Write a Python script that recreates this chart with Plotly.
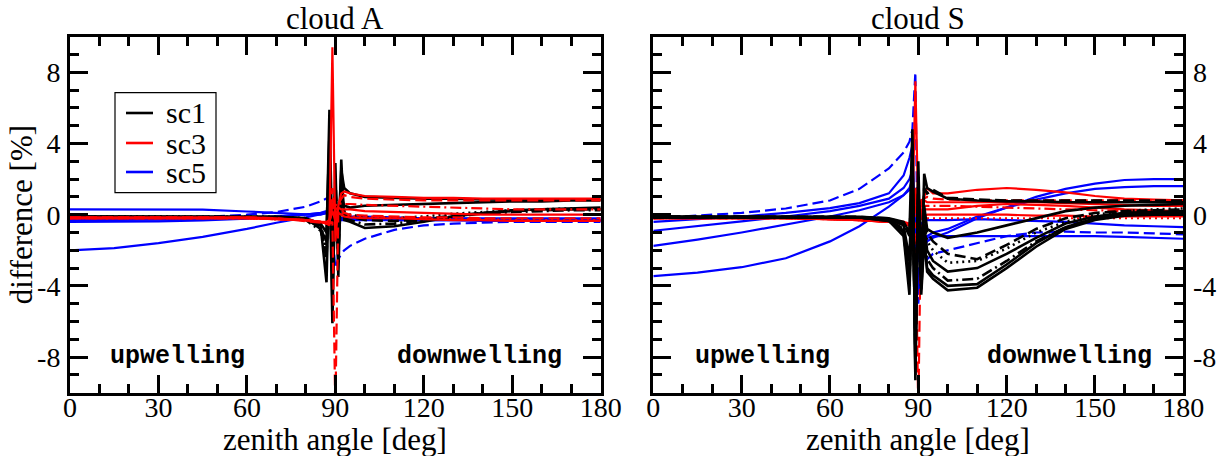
import plotly.graph_objects as go

# ---------------- data ----------------
X = [0, 15, 30, 45, 60, 70, 80, 85, 87, 88, 89, 90, 91, 92, 93, 95, 100, 110, 120, 130, 140, 150, 160, 170, 180]

# cloud A, sc1 (black)
A_k1 = [-0.10,-0.10,-0.10,-0.10,-0.10,-0.12,-0.20,-0.80,-1.5, 5.9,-2.0, 1.0,-1.0, 2.5, 1.5, 1.2, 1.0, 0.95,0.9, 0.9, 0.85,0.85,0.85,0.85,0.85]
A_k2 = [-0.15,-0.15,-0.15,-0.15,-0.15,-0.15,-0.25,-0.60,-3.8, 3.0,-6.1, 2.9,-3.5, 3.1,-0.3,-0.4,-0.75,-0.65,-0.4,-0.1, 0.1, 0.25,0.3, 0.35,0.4]
A_k3 = [-0.10,-0.10,-0.10,-0.10,-0.10,-0.12,-0.20,-0.50,-1.0, 4.5,-5.0, 1.5,-2.0, 1.0, 0.5, 0.4, 0.5, 0.55,0.6, 0.65,0.7, 0.75,0.75,0.8, 0.8]
A_k4 = [-0.12,-0.12,-0.12,-0.12,-0.12,-0.14,-0.25,-0.70,-2.5, 2.5,-4.0, 2.0,-1.5, 1.5, 0.0,-0.1,-0.3,-0.35,-0.25,-0.05,0.1, 0.2, 0.25,0.3, 0.3]
A_k5 = [-0.15,-0.15,-0.15,-0.15,-0.15,-0.16,-0.30,-0.90,-2.0, 3.5,-3.5, 1.5,-2.5, 2.0,-0.2,-0.3,-0.55,-0.5,-0.3,-0.1, 0.05,0.15,0.2, 0.25,0.25]
A_k6 = [-0.10,-0.10,-0.10,-0.10,-0.10,-0.12,-0.20,-0.60,-1.8, 2.0,-3.0, 0.8,-1.0, 1.2, 0.2, 0.0,-0.15,-0.2,-0.1, 0.05,0.15,0.25,0.3, 0.35,0.35]
# cloud A, sc3 (red)
A_r1 = [-0.15,-0.15,-0.15,-0.15,-0.15,-0.2,-0.3,-0.4,-0.5,-0.6, 9.4,-1.5, 0.5, 1.2, 1.3, 1.2, 1.05,1.0, 0.95,0.95,0.9, 0.9, 0.9, 0.9, 0.9]
A_r2 = [-0.15,-0.15,-0.15,-0.15,-0.15,-0.2,-0.35,-0.45,-0.5,-0.5,-0.4,-11.0,0.2, 0.3, 0.1, 0.0,-0.05,-0.1,-0.15,-0.15,-0.2,-0.2,-0.2,-0.2,-0.2]
A_r3 = [-0.2,-0.2,-0.2,-0.2,-0.2,-0.25,-0.3,-0.4,-0.4,-0.3, 0.5, 0.3, 0.4, 0.3, 0.3, 0.3, 0.2, 0.15,0.1, 0.05,0.0, 0.0, 0.0, 0.0, 0.0]
A_r4 = [-0.2,-0.2,-0.2,-0.2,-0.2,-0.25,-0.3,-0.4,-0.5,-0.4, 0.3, 0.0, 0.2, 0.1, 0.0,-0.1,-0.1,-0.15,-0.2,-0.25,-0.25,-0.3,-0.3,-0.3,-0.3]
A_r5 = [-0.2,-0.2,-0.2,-0.2,-0.2,-0.25,-0.3,-0.4,-0.5,-0.4, 0.6, 0.5, 0.7, 0.6, 0.6, 0.6, 0.55,0.5, 0.45,0.4, 0.35,0.3, 0.3, 0.3, 0.3]
A_r6 = [-0.2,-0.2,-0.2,-0.2,-0.2,-0.25,-0.3,-0.4,-0.5,-0.4, 1.5,-0.5, 0.6, 0.9, 1.1, 1.0, 0.9, 0.85,0.8, 0.8, 0.8, 0.8, 0.8, 0.8, 0.8]
A_r7 = [-0.2,-0.2,-0.2,-0.2,-0.2,-0.25,-0.3,-0.4,-0.5,-0.4, 0.2,-0.3, 0.1, 0.0,-0.1,-0.15,-0.2,-0.2,-0.25,-0.3,-0.3,-0.35,-0.35,-0.35,-0.35]
# cloud A, sc5 (blue)
A_b1 = [0.30, 0.30, 0.30, 0.28, 0.18, 0.08, 0.02, 0.0, 0.1, 0.3, 0.5,-0.5,-0.3,-0.2,-0.2,-0.2,-0.25,-0.3,-0.3,-0.3,-0.35,-0.35,-0.35,-0.35,-0.35]
A_b2 = [-2.0,-1.88,-1.6,-1.25,-0.8,-0.45,-0.15, 0.0, 0.1, 0.2,-0.3,-0.6,-0.3,-0.2,-0.15,-0.1,-0.1,-0.15,-0.2,-0.2,-0.25,-0.25,-0.3,-0.3,-0.3]
A_b3 = [-0.2,-0.2,-0.18,-0.12, 0.0, 0.15, 0.45, 0.75, 0.9, 1.0,-1.0,-3.0,-2.5,-2.2,-2.0,-1.75,-1.35,-0.85,-0.6,-0.5,-0.45,-0.4,-0.4,-0.4,-0.4]
A_b4 = [-0.3,-0.3,-0.28,-0.25,-0.2,-0.1, 0.0, 0.1, 0.2, 0.4, 0.0,-0.4,-0.3,-0.2,-0.2,-0.2,-0.2,-0.2,-0.2,-0.2,-0.2,-0.2,-0.2,-0.2,-0.2]
A_b5 = [-0.4,-0.4,-0.38,-0.32,-0.22,-0.1, 0.0, 0.05, 0.1, 0.2,-0.2,-0.8,-0.4,-0.3,-0.3,-0.3,-0.3,-0.3,-0.3,-0.3,-0.3,-0.3,-0.3,-0.3,-0.3]

# cloud S, sc1 (black)
S_k1 = [-0.10,-0.10,-0.10,-0.10,-0.10,-0.12,-0.20,-0.40,-1.0, 4.8,-9.3, 3.0,-4.0, 2.3, 1.5, 1.3, 0.9, 0.8, 0.75,0.75,0.7, 0.7, 0.7, 0.7, 0.7]
S_k2 = [-0.10,-0.10,-0.10,-0.10,-0.10,-0.12,-0.20,-0.50,-1.2, 3.0,-8.0, 2.0,-3.0, 1.5, 1.2, 1.4, 0.95,0.85,0.8, 0.8, 0.8, 0.8, 0.8, 0.8, 0.8]
S_k3 = [-0.12,-0.12,-0.12,-0.12,-0.12,-0.14,-0.25,-0.60,-2.5, 2.5,-6.0, 1.0,-2.0, 0.5,-0.8,-1.0,-1.3,-1.0,-0.6,-0.2, 0.2, 0.4, 0.5, 0.55,0.6]
S_k4 = [-0.12,-0.12,-0.12,-0.12,-0.12,-0.14,-0.30,-0.80,-3.0, 1.5,-5.0, 0.5,-1.5, 0.0,-1.0,-1.5,-2.2,-2.5,-1.7,-0.8,-0.2, 0.1, 0.2, 0.25,0.3]
S_k5 = [-0.12,-0.12,-0.12,-0.12,-0.12,-0.14,-0.30,-0.80,-3.5, 2.0,-4.5, 0.0,-2.5,-0.5,-1.5,-2.0,-2.7,-2.6,-1.9,-1.0,-0.4, 0.0, 0.2, 0.3, 0.35]
S_k6 = [-0.15,-0.15,-0.15,-0.15,-0.15,-0.16,-0.30,-0.90,-4.0, 1.0,-7.0, 1.5,-3.5,-0.5,-2.0,-2.6,-3.2,-3.0,-2.2,-1.3,-0.5,-0.1, 0.1, 0.15,0.2]
S_k7 = [-0.15,-0.15,-0.15,-0.15,-0.15,-0.16,-0.30,-1.00,-3.0, 2.0,-6.5, 0.5,-4.0,-1.0,-2.5,-3.0,-3.7,-3.6,-2.6,-1.5,-0.7,-0.2, 0.0, 0.1, 0.1]
S_k8 = [-0.15,-0.15,-0.15,-0.15,-0.15,-0.16,-0.35,-1.20,-4.5, 3.5,-8.5, 2.0,-4.5,-1.5,-3.0,-3.4,-4.0,-3.9,-2.8,-1.6,-0.7,-0.2, 0.0, 0.05,0.1]
S_k9 = [-0.15,-0.15,-0.15,-0.15,-0.15,-0.16,-0.35,-1.00,-3.8, 4.0,-9.0, 1.0,-4.2,-1.2,-3.2,-3.6,-4.25,-4.1,-3.0,-1.8,-0.8,-0.3,-0.05,0.0, 0.0]
# cloud S, sc3 (red)
S_r1 = [-0.15,-0.15,-0.15,-0.15,-0.2,-0.25,-0.3,-0.4,-0.5,-0.3, 7.5, 0.0, 0.5, 1.0, 1.5, 1.2, 1.2, 1.4, 1.5, 1.4, 1.25,1.05,0.9, 0.85,0.8]
S_r2 = [-0.2,-0.2,-0.2,-0.2,-0.25,-0.3,-0.4,-0.5,-0.5,-0.5,-0.5,-11.0,0.8, 0.9, 1.0, 0.9, 0.85,0.8, 0.8, 0.8, 0.8, 0.8, 0.8, 0.8, 0.8]
S_r3 = [-0.2,-0.2,-0.2,-0.2,-0.25,-0.3,-0.4,-0.5,-0.6,-0.4, 1.0, 0.2, 0.3, 0.3, 0.3, 0.3, 0.3, 0.5, 0.6, 0.55,0.5, 0.4, 0.3, 0.25,0.2]
S_r4 = [-0.2,-0.2,-0.2,-0.2,-0.25,-0.3,-0.4,-0.5,-0.6,-0.4, 0.5,-0.5, 0.0,-0.1, 0.0, 0.0, 0.0, 0.0, 0.0,-0.05,-0.05,-0.1,-0.1,-0.1,-0.1]
S_r5 = [-0.2,-0.2,-0.2,-0.2,-0.25,-0.3,-0.4,-0.5,-0.6,-0.4, 0.2,-0.8,-0.3,-0.2,-0.2,-0.2,-0.2,-0.2,-0.2,-0.2,-0.2,-0.2,-0.2,-0.2,-0.2]
S_r6 = [-0.2,-0.2,-0.2,-0.2,-0.25,-0.3,-0.4,-0.5,-0.6,-0.4, 0.8, 0.3, 0.5, 0.5, 0.5, 0.5, 0.5, 0.45,0.4, 0.35,0.3, 0.25,0.2, 0.15,0.1]
S_r7 = [-0.2,-0.2,-0.2,-0.2,-0.25,-0.3,-0.4,-0.5,-0.6,-0.4, 1.5, 0.5, 0.8, 0.8, 0.7, 0.7, 0.7, 0.7, 0.7, 0.7, 0.65,0.6, 0.55,0.5, 0.5]
# cloud S, sc5 (blue)
S_b1 = [-3.45,-3.25,-2.95,-2.45,-1.5,-0.65,0.45,1.1, 1.5, 2.0,-4.0,-2.0,-1.5,-1.8,-1.5,-1.3,-1.0,-0.2, 0.4, 1.0, 1.45,1.75,1.95,2.0, 2.0]
S_b2 = [-1.75,-1.4,-1.0,-0.55,-0.1, 0.25, 0.7, 1.1, 1.4, 1.8,-3.0,-1.5,-1.2,-1.3,-1.2,-1.0,-0.8,-0.1, 0.4, 0.85,1.2, 1.45,1.55,1.6, 1.6]
S_b3 = [-0.9,-0.65,-0.37,-0.1, 0.2, 0.5, 0.9, 1.5, 2.0, 2.5,-2.0,-1.0,-0.5,-0.4,-0.3,-0.3,-0.3,-0.25,-0.3,-0.35,-0.4,-0.5,-0.6,-0.65,-0.7]
S_b4 = [-0.4,-0.25,-0.1, 0.1, 0.37, 0.65,1.2, 2.2, 3.2, 3.9,-1.0,-4.5,-2.0,-1.5,-1.3,-1.2,-1.2,-1.2,-1.2,-1.2,-1.2,-1.2,-1.25,-1.3,-1.35]
S_b5 = [-0.2,-0.05, 0.1, 0.35, 0.8, 1.45, 2.6, 3.5, 4.1, 4.8, 8.0,-5.0,-3.0,-2.8,-2.5,-2.2,-2.0,-1.6,-1.2,-1.0,-0.95,-1.0,-1.0,-1.05,-1.1]

X_TICKS = [0, 30, 60, 90, 120, 150, 180]
Y_TICKS = [-8, -4, 0, 4, 8]
Y_TICK_TEXT = ["-8", "-4", "0", "4", "8"]
GROUPS = ["sc1", "sc3", "sc5"]
PANEL_TITLES = ["cloud A", "cloud S"]

# ---------------- styling ----------------
COLORS = {"sc1": "#000000", "sc3": "#ff0000", "sc5": "#0000ff"}
DASH = {"solid": "solid", "dash": "11px,5px", "dot": "2px,4px", "dashdot": "11px,4px,2px,4px"}
WIDTH = {"sc1": 2.6, "sc3": 2.2, "sc5": 2.2}

panel_A = [
    ("sc5", A_b1, "solid"), ("sc5", A_b2, "solid"), ("sc5", A_b3, "dash"), ("sc5", A_b4, "solid"), ("sc5", A_b5, "solid"),
    ("sc1", A_k1, "solid"), ("sc1", A_k2, "solid"), ("sc1", A_k3, "solid"), ("sc1", A_k4, "dash"), ("sc1", A_k5, "dashdot"), ("sc1", A_k6, "dot"),
    ("sc3", A_r1, "solid"), ("sc3", A_r2, "dash"), ("sc3", A_r3, "solid"), ("sc3", A_r4, "dot"), ("sc3", A_r5, "dashdot"),
    ("sc3", A_r6, "dash"), ("sc3", A_r7, "solid"),
]
panel_S = [
    ("sc5", S_b1, "solid"), ("sc5", S_b2, "solid"), ("sc5", S_b3, "solid"), ("sc5", S_b4, "solid"), ("sc5", S_b5, "dash"),
    ("sc3", S_r1, "solid"), ("sc3", S_r2, "dash"), ("sc3", S_r3, "solid"), ("sc3", S_r4, "solid"), ("sc3", S_r5, "dot"),
    ("sc3", S_r6, "dashdot"), ("sc3", S_r7, "solid"),
    ("sc1", S_k1, "solid"), ("sc1", S_k2, "dash"), ("sc1", S_k3, "solid"), ("sc1", S_k4, "dash"), ("sc1", S_k5, "dot"),
    ("sc1", S_k6, "solid"), ("sc1", S_k7, "dashdot"), ("sc1", S_k8, "solid"), ("sc1", S_k9, "solid"),
]

fig = go.Figure()
for axi, panel in ((1, panel_A), (2, panel_S)):
    for grp, vals, dash in panel:
        fig.add_trace(go.Scatter(
            x=X, y=vals, mode="lines", name=grp, legendgroup=grp, showlegend=False,
            line=dict(color=COLORS[grp], width=WIDTH[grp], dash=DASH[dash]),
            xaxis="x" if axi == 1 else "x2", yaxis="y" if axi == 1 else "y2",
        ))

SERIF = "Liberation Serif, Times New Roman, serif"
MONO = "Liberation Mono, Courier New, monospace"
W, H = 1220, 456
L1, R1, L2, R2 = 70, 600.7, 653.3, 1183.3
TOP, BOT = 36.7, 392.7
ydom = [(H - BOT) / H, (H - TOP) / H]
TICKFONT = dict(family=SERIF, size=28, color="black")

def xax(dom):
    return dict(domain=dom, range=[0, 180], tickvals=X_TICKS, ticks="inside", ticklen=18, tickwidth=2.5,
                tickcolor="black", showline=True, linewidth=3, linecolor="black", mirror="allticks",
                showgrid=False, zeroline=False, tickfont=TICKFONT, ticklabelstandoff=-12,
                minor=dict(dtick=10, ticks="inside", ticklen=9, tickwidth=2.5, tickcolor="black", showgrid=False),
                automargin=False)

def yax(side, anchor):
    return dict(domain=ydom, range=[-10, 10], tickvals=Y_TICKS, ticktext=Y_TICK_TEXT, side=side, anchor=anchor,
                ticks="inside", ticklen=18, tickwidth=2.5, tickcolor="black", showline=True, linewidth=3,
                linecolor="black", mirror="allticks", showgrid=False, zeroline=False,
                tickfont=TICKFONT, ticklabelstandoff=1,
                minor=dict(dtick=1, ticks="inside", ticklen=9, tickwidth=2.5, tickcolor="black", showgrid=False),
                automargin=False)

fig.update_layout(
    width=W, height=H, margin=dict(l=0, r=0, t=0, b=0),
    paper_bgcolor="white", plot_bgcolor="white", showlegend=False,
    xaxis=xax([L1 / W, R1 / W]), xaxis2=xax([L2 / W, R2 / W]),
    yaxis=yax("left", "x"), yaxis2=yax("right", "x2"),
)

ann = []
for i, (l, r) in enumerate(((L1, R1), (L2, R2))):
    cx = (l + r) / 2 / W
    ann.append(dict(text=PANEL_TITLES[i], x=cx, y=1 - 19 / H, xref="paper", yref="paper", showarrow=False,
                    font=dict(family=SERIF, size=31, color="black"), xanchor="center", yanchor="middle"))
    ann.append(dict(text="zenith angle [deg]", x=cx, y=1 - 439 / H, xref="paper", yref="paper", showarrow=False,
                    font=dict(family=SERIF, size=31, color="black"), xanchor="center", yanchor="middle"))
    xr = "x" if i == 0 else "x2"
    yr = "y" if i == 0 else "y2"
    ann.append(dict(text="<b>upwelling</b>", x=[12.8, 13.5][i], y=-7.95, xref=xr, yref=yr, showarrow=False,
                    font=dict(family=MONO, size=25, color="black"), xanchor="left", yanchor="middle"))
    ann.append(dict(text="<b>downwelling</b>", x=[167.5, 170][i], y=-7.95, xref=xr, yref=yr, showarrow=False,
                    font=dict(family=MONO, size=25, color="black"), xanchor="right", yanchor="middle"))
ann.append(dict(text="difference [%]", x=21.5 / W, y=(ydom[0] + ydom[1]) / 2, xref="paper", yref="paper",
                showarrow=False, textangle=-90, font=dict(family=SERIF, size=31, color="black"),
                xanchor="center", yanchor="middle"))

# legend (box, line samples, labels) in the left panel
LEG_BOX = (115, 92.7, 216, 192.7)
LEG_ROWS = [113, 143, 172]
shapes = [dict(type="rect", xref="paper", yref="paper", x0=LEG_BOX[0] / W, x1=LEG_BOX[2] / W,
               y0=1 - LEG_BOX[3] / H, y1=1 - LEG_BOX[1] / H, line=dict(color="black", width=1.2),
               fillcolor="white", layer="above")]
for grp, yy in zip(GROUPS, LEG_ROWS):
    shapes.append(dict(type="line", xref="paper", yref="paper", x0=126 / W, x1=153 / W,
                       y0=1 - yy / H, y1=1 - yy / H, line=dict(color=COLORS[grp], width=2.6), layer="above"))
    ann.append(dict(text=grp, x=164 / W, y=1 - yy / H, xref="paper", yref="paper", showarrow=False,
                    font=dict(family=SERIF, size=30, color="black"), xanchor="left", yanchor="middle"))
fig.update_layout(annotations=ann, shapes=shapes)

fig.write_html("out.html")
